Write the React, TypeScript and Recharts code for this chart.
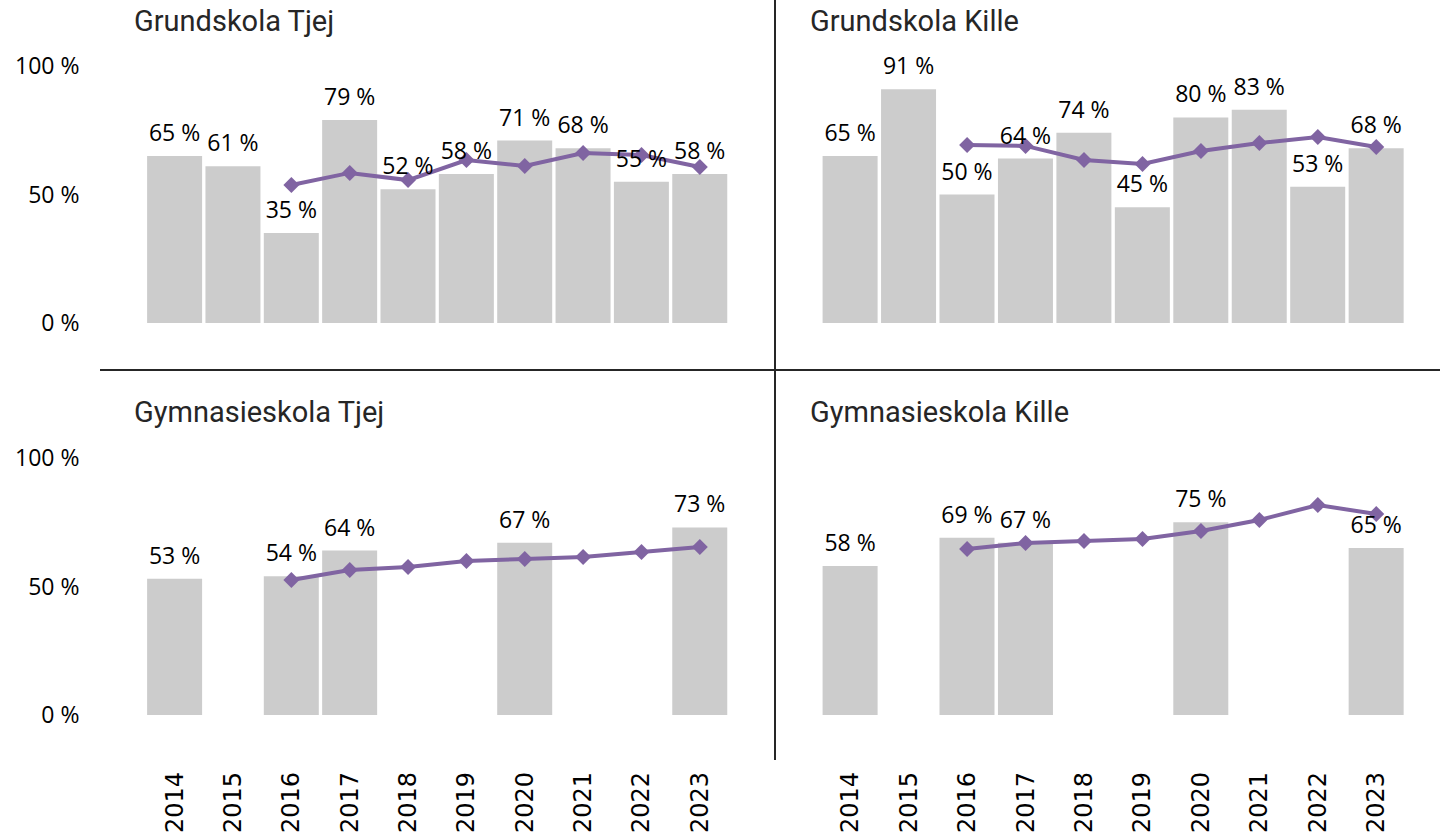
import React from "react";
import { ComposedChart, Bar, Line, XAxis, YAxis, LabelList } from "recharts";

const years = ["2014", "2015", "2016", "2017", "2018", "2019", "2020", "2021", "2022", "2023"];
const yTicks = [0, 50, 100];

// staplar = kommunen, linje = jämförelse
const grundTjejBar = [65, 61, 35, 79, 52, 58, 71, 68, 55, 58];
const grundTjejLine = [null, null, 53.7, 58.4, 55.6, 63.4, 61.1, 66.1, 65.4, 60.7];
const grundKilleBar = [65, 91, 50, 64, 74, 45, 80, 83, 53, 68];
const grundKilleLine = [null, null, 69.3, 68.9, 63.4, 61.9, 66.9, 70, 72.4, 68.5];
const gymTjejBar = [53, null, 54, 64, null, null, 67, null, null, 73];
const gymTjejLine = [null, null, 52.5, 56.4, 57.6, 59.9, 60.7, 61.5, 63.4, 65.4];
const gymKilleBar = [58, null, 69, 67, null, null, 75, null, null, 65];
const gymKilleLine = [null, null, 64.6, 66.9, 67.7, 68.5, 71.6, 75.9, 81.7, 78.2];

const BAR = "#cccccc";
const LINE = "#8064a2";
const INK = "#262626";
const labelFont = "'Open Sans', sans-serif";

const build = (bars: (number | null)[], line: (number | null)[]) =>
  years.map((year, i) => ({ year, bar: bars[i], line: line[i] }));

const Diamond = (props: any) => {
  const { cx, cy, index } = props;
  if (cx == null || cy == null) return <g key={`d-${index}`} />;
  const s = 8;
  return (
    <path
      key={`d-${index}`}
      d={`M${cx},${cy - s} L${cx + s},${cy} L${cx},${cy + s} L${cx - s},${cy} Z`}
      fill={LINE}
    />
  );
};

const YearTick = (props: any) => {
  const { x, y, payload } = props;
  return (
    <text
      x={x}
      y={y}
      transform={`rotate(-90, ${x}, ${y})`}
      textAnchor="end"
      dominantBaseline="central"
      fontFamily="'DejaVu Sans', sans-serif"
      fontSize={24}
      fill="#000"
    >
      {payload.value}
    </text>
  );
};

type PanelProps = {
  title: string;
  left: number;
  top: number;
  width: number;
  height: number;
  data: any[];
  margin: { top: number; right: number; bottom: number; left: number };
  showY: boolean;
  showX: boolean;
  titleLeft: number;
};

function Panel({ title, left, top, width, height, data, margin, showY, showX, titleLeft }: PanelProps) {
  return (
    <>
      <div
        style={{
          position: "absolute",
          left: titleLeft,
          top: top + 7,
          fontFamily: "Roboto, sans-serif",
          fontWeight: 400,
          fontSize: 29,
          lineHeight: "29px",
          color: INK,
          whiteSpace: "nowrap",
        }}
      >
        {title}
      </div>
      <div style={{ position: "absolute", left, top }}>
        <ComposedChart width={width} height={height} data={data} margin={margin} barCategoryGap={1.6}>
          <XAxis
            dataKey="year"
            hide={!showX}
            height={showX ? 124 : 0}
            axisLine={false}
            tickLine={false}
            tickSize={0}
            tickMargin={57}
            interval={0}
            tick={<YearTick />}
          />
          <YAxis
            domain={[0, 100]}
            ticks={yTicks}
            hide={!showY}
            width={showY ? 145.5 : 0}
            axisLine={false}
            tickLine={false}
            tickSize={0}
            tickMargin={66}
            tickFormatter={(v: number) => `${v} %`}
            tick={{ fontFamily: labelFont, fontSize: 23, fill: "#000" }}
          />
          <Bar dataKey="bar" fill={BAR} isAnimationActive={false}>
            <LabelList
              dataKey="bar"
              position="top"
              offset={15}
              formatter={(v: any) => (v == null ? "" : `${v} %`)}
              style={{ fontFamily: labelFont, fontSize: 23, fill: "#000" }}
            />
          </Bar>
          <Line
            dataKey="line"
            stroke={LINE}
            strokeWidth={4}
            dot={Diamond}
            activeDot={false}
            isAnimationActive={false}
          />
        </ComposedChart>
      </div>
    </>
  );
}

export default function App() {
  return (
    <div style={{ position: "absolute", left: 0, top: 0, width: 1440, height: 839, background: "#fff", overflow: "hidden" }}>
      <Panel
        title="Grundskola Tjej"
        titleLeft={134}
        left={0}
        top={0}
        width={760}
        height={340}
        data={build(grundTjejBar, grundTjejLine)}
        margin={{ top: 66, right: 31, bottom: 17, left: 0 }}
        showY
        showX={false}
      />
      <Panel
        title="Grundskola Kille"
        titleLeft={810}
        left={760}
        top={0}
        width={680}
        height={340}
        data={build(grundKilleBar, grundKilleLine)}
        margin={{ top: 66, right: 34.5, bottom: 17, left: 61 }}
        showY={false}
        showX={false}
      />
      <Panel
        title="Gymnasieskola Tjej"
        titleLeft={134}
        left={0}
        top={391}
        width={760}
        height={448}
        data={build(gymTjejBar, gymTjejLine)}
        margin={{ top: 67, right: 31, bottom: 0, left: 0 }}
        showY
        showX
      />
      <Panel
        title="Gymnasieskola Kille"
        titleLeft={810}
        left={760}
        top={391}
        width={680}
        height={448}
        data={build(gymKilleBar, gymKilleLine)}
        margin={{ top: 67, right: 34.5, bottom: 0, left: 61 }}
        showY={false}
        showX
      />
      <div style={{ position: "absolute", left: 774, top: 0, width: 2, height: 760, background: INK }} />
      <div style={{ position: "absolute", left: 100, top: 369, width: 1340, height: 2, background: INK }} />
    </div>
  );
}
